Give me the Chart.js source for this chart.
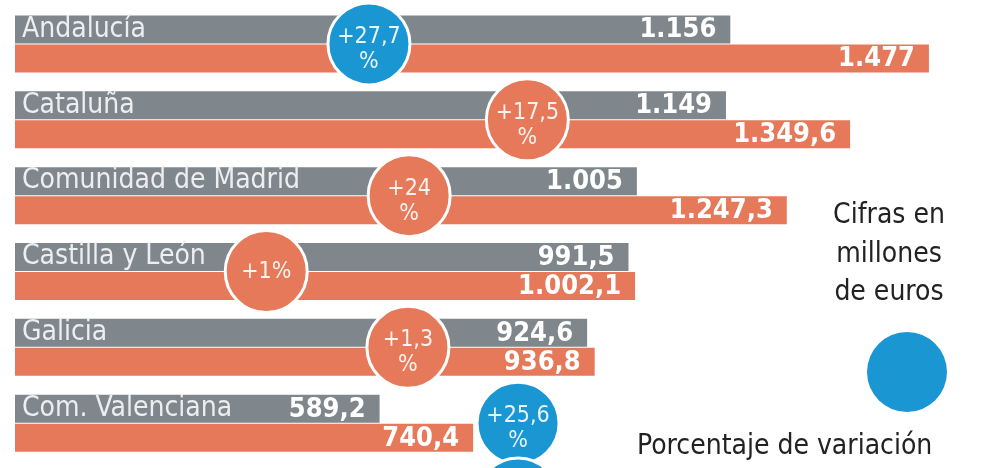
<!DOCTYPE html>
<html lang="es">
<head>
<meta charset="utf-8">
<title>Gasto por comunidad</title>
<script src="https://cdn.jsdelivr.net/npm/chart.js@4"></script>
<style>
    html, body { margin: 0; padding: 0; width: 984px; height: 468px; overflow: hidden; background: #fff; }
    #wrap { position: relative; width: 984px; height: 537px; }
    .note {
        position: absolute;
        font-family: "DejaVu Sans Condensed", "DejaVu Sans", sans-serif;
        font-size: 28px;
        line-height: 38.5px;
        color: #222;
        white-space: nowrap;
    }
    #units { left: 826px; top: 195px; width: 126px; text-align: center; }
    #key { left: 637px; top: 426px; }
    #dot { position: absolute; left: 867px; top: 332px; width: 80px; height: 80px; border-radius: 50%; background: #1a96d3; }
</style>
</head>
<body>
<div id="wrap">
    <canvas id="chart"></canvas>
    <div class="note" id="units">Cifras en<br>millones<br>de euros</div>
    <div id="dot"></div>
    <div class="note" id="key">Porcentaje de variación</div>
</div>

<script>
// the last row is cut off at the bottom of the picture, only its badge shows
const regions = ["Andalucía", "Cataluña", "Comunidad de Madrid", "Castilla y León", "Galicia", "Com. Valenciana", ""];
const before = [1156, 1149, 1005, 991.5, 924.6, 589.2, null];
const after = [1477, 1349.6, 1247.3, 1002.1, 936.8, 740.4, null];
const variationText = [["+27,7", "%"], ["+17,5", "%"], ["+24", "%"], ["+1%"], ["+1,3", "%"], ["+25,6", "%"], []];

// badge placement (in euros along the x axis) and colour
const badgeAt = [572, 828, 637, 406, 635, 813, 813];
const badgeColour = ["#1a96d3", "#e5795a", "#e5795a", "#e5795a", "#e5795a", "#1a96d3", "#1a96d3"];

const FONT = '"DejaVu Sans Condensed", "DejaVu Sans", sans-serif';

// 1156 -> "1.156", 1349.6 -> "1.349,6"
function fmt(v) {
    const parts = String(v).split(".");
    const int = parts[0].replace(/\B(?=(\d{3})+(?!\d))/g, ".");
    return parts[1] ? int + "," + parts[1] : int;
}

const overlay = {
    id: "overlay",
    afterDatasetsDraw(chart) {
        const { ctx, scales: { x, y } } = chart;
        const grey = chart.getDatasetMeta(0).data;
        const orange = chart.getDatasetMeta(1).data;
        ctx.save();
        ctx.textBaseline = "middle";

        // region names inside the grey bars
        ctx.font = "28px " + FONT;
        ctx.fillStyle = "#eceeef";
        ctx.textAlign = "left";
        grey.forEach((bar, i) => {
            if (regions[i]) ctx.fillText(regions[i], x.left + 7, bar.y);
        });

        // values at the end of each bar
        ctx.font = "bold 27px " + FONT;
        ctx.fillStyle = "#ffffff";
        ctx.textAlign = "right";
        [[grey, before], [orange, after]].forEach(([bars, vals]) => {
            bars.forEach((bar, i) => {
                if (vals[i] != null) ctx.fillText(fmt(vals[i]), bar.x - 14, bar.y + 1);
            });
        });

        // variation badges
        ctx.textAlign = "center";
        ctx.font = "23px " + FONT;
        variationText.forEach((lines, i) => {
            const cx = x.getPixelForValue(badgeAt[i]);
            const cy = y.getPixelForValue(i);
            ctx.beginPath();
            ctx.arc(cx, cy, 41, 0, Math.PI * 2);
            ctx.fillStyle = badgeColour[i];
            ctx.fill();
            ctx.lineWidth = 3;
            ctx.strokeStyle = "#ffffff";
            ctx.stroke();
            ctx.fillStyle = "rgba(255,255,255,0.9)";
            if (lines.length === 1) {
                ctx.fillText(lines[0], cx, cy + 1);
            } else if (lines.length === 2) {
                ctx.fillText(lines[0], cx, cy - 7);
                ctx.fillText(lines[1], cx, cy + 18);
            }
        });
        ctx.restore();
    }
};

new Chart(document.getElementById("chart"), {
    type: "bar",
    data: {
        labels: regions,
        datasets: [
            { label: "Antes", data: before, backgroundColor: "#7f878d" },
            { label: "Después", data: after, backgroundColor: "#e5795a" }
        ]
    },
    options: {
        indexAxis: "y",
        responsive: true,
        maintainAspectRatio: false,
        animation: false,
        layout: { padding: { left: 15, right: 0, top: 6, bottom: 0 } },
        datasets: { bar: { categoryPercentage: 0.765, barPercentage: 0.965 } },
        plugins: { legend: { display: false }, tooltip: { enabled: false } },
        scales: {
            x: { display: false, min: 0, max: 1566 },
            y: { display: false }
        }
    },
    plugins: [overlay]
});
</script>
</body>
</html>
